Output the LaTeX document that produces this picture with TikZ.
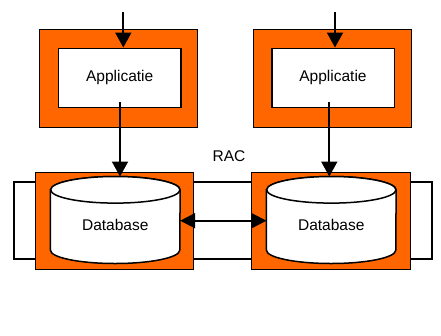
\documentclass[tikz,border=0pt]{standalone}
\usepackage{fontspec}
\setmainfont{Liberation Sans}
\usetikzlibrary{arrows.meta,positioning}
\definecolor{rorange}{HTML}{FF6600}
\tikzset{
  frame/.style={draw=black, line width=0.9pt, fill=rorange, inner sep=0pt},
  appbox/.style={draw=black, line width=1.6pt, fill=white, inner sep=0pt,
    minimum width=122.6pt, minimum height=59pt,
    font=\fontsize{15.5}{18}\selectfont},
  dbarea/.style={inner sep=0pt, minimum width=129.3pt, minimum height=86.6pt},
  cyl/.style={draw=black, line width=1.5pt, fill=white},
  arr/.style={line width=2pt, -{Triangle[length=15pt,width=16pt]}},
  darr/.style={line width=2pt, {Triangle[length=15pt,width=15pt]}-{Triangle[length=15pt,width=15pt]}},
  ring/.style={draw=black, line width=2pt},
  lbl/.style={font=\fontsize{15.5}{18}\selectfont}
}
\newcommand{\drawcyl}[1]{%
  \path[cyl] ([yshift=-13.3pt]#1.north west) -- ([yshift=13.3pt]#1.south west)
    arc[start angle=180, end angle=360, x radius=64.65pt, y radius=13.3pt]
    -- ([yshift=-13.3pt]#1.north east)
    arc[start angle=0, end angle=180, x radius=64.65pt, y radius=13.3pt] -- cycle;
  \path[cyl] ([yshift=-13.3pt]#1.north) ellipse[x radius=64.65pt, y radius=13.3pt];
  \node[lbl] at ([yshift=-5pt]#1.center) {Database};
}
\begin{document}
\begin{tikzpicture}[x=1pt, y=-1pt]
  \useasboundingbox (0,0) rectangle (441,335);

  % cluster interconnect ring behind the database frames
  \coordinate (ringA) at (14,181.7);
  \coordinate (ringB) at (432.3,259.3);
  \draw[ring] (ringA) rectangle (ringB);

  % application tier
  \node[frame, minimum width=158.4pt, minimum height=98pt] (oapp1) at (118.5,78.3) {};
  \node[frame, minimum width=157.7pt, minimum height=98pt] (oapp2) at (332.2,78.3) {};
  \node[appbox] (app1) at (119.7,77.8) {Applicatie};
  \node[appbox] (app2) at (333,77.8) {Applicatie};

  % database tier
  \node[frame, minimum width=157.6pt, minimum height=97pt] (odb1) at (114.5,220.8) {};
  \node[frame, minimum width=158.3pt, minimum height=97pt] (odb2) at (330.8,220.8) {};
  \node[dbarea] (db1) at (115.3,220) {};
  \node[dbarea] (db2) at (331.3,220) {};
  \drawcyl{db1}
  \drawcyl{db2}

  \node[lbl] (rac) at (229,156) {RAC};

  % incoming requests
  \coordinate (in1) at (123.3,12);
  \coordinate (in2) at (335,12);
  \draw[arr] (in1) -- (in1 |- app1.north);
  \draw[arr] (in2) -- (in2 |- app2.north);

  % application to database
  \coordinate (out1) at (120,102);
  \coordinate (out2) at (329.3,102);
  \draw[arr] (out1) -- (out1 |- db1.north);
  \draw[arr] (out2) -- (out2 |- db2.north);

  % interconnect between instances
  \draw[darr] ([yshift=-0.7pt]db1.east) -- ([yshift=-0.7pt]db2.west);
\end{tikzpicture}
\end{document}
